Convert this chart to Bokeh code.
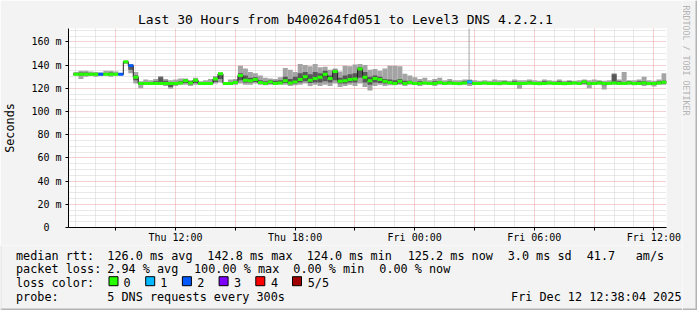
import math
from bokeh.plotting import figure
from bokeh.models import Range1d, FixedTicker, Grid, ColumnDataSource
from bokeh.layouts import column, row
from bokeh.embed import file_html
from bokeh.resources import INLINE
from bokeh.core.properties import value

NaN = float("nan")
FONT = "DejaVu Sans Mono"
BG = "#f3f3f3"

title_text = "Last 30 Hours from b400264fd051 to Level3 DNS 4.2.2.1"
side_text = "RRDTOOL / TOBI OETIKER"
y_axis_title = "Seconds"

start_hour = 6 + 38 / 60.0      # Thu 06:38 (hours since Thu 00:00)
step_hours = 0.25               # one column = 15 minutes
span_hours = 30
y_max = 171.5

# median rtt (ms) per 15-minute column
median = [
    NaN, 132, 132, 132, 132, 132, 132, 132, 132, 132,
    132, 142.8, 139.5, 129.5, 124, 124, 124, 124, 124, 124,
    124, 124, 124.5, 126.5, 124.5, 127, 124, 124, 124, 128,
    132.5, 124, 124, 125, 131, 127, 126.5, 127.5, 125, 124,
    125.5, 124, 124.5, 126.5, 124.5, 125.5, 127.5, 130, 127, 128.5,
    129.5, 132, 128.5, 134.5, 126, 126.5, 127.5, 128, 136.5, 129.5,
    126.5, 128.5, 127.5, 126, 125, 124, 126, 124, 125, 124,
    124, 124.5, 124, 124, 125, 124, 124.5, 124, 124, 124.5,
    125.5, 124, 124, 124.5, 124, 124, 124, 124.5, 124, 124,
    124, 124, 124.5, 124, 124, 124, 124.5, 124, 124, 124,
    124, 124.5, 124, 125.5, 124, 124, 124.5, 124, 124, 124.5,
    124, 124, 124.5, 124, 124, 124.5, 124, 124, 124.5, 125.2,
]
# fastest ping
p_min = [
    NaN, 131, 128, 130, 130.5, 130, 130.5, 131, 130, 131,
    131, 141, 133, 124, 120, 123, 123, 123, 123, 122,
    119.5, 122, 123, 123, 122, 123, 123, 123, 123, 124,
    125, 123, 123, 123, 124, 123, 123, 124, 123, 122.5,
    123, 123, 123, 123, 122, 122.5, 123, 124, 122, 123,
    122, 123, 122, 124, 121, 122, 123, 122, 124, 121,
    118, 122, 123, 122, 122.5, 122.5, 123, 122, 123, 123,
    122, 123, 123, 122, 123, 123, 123, 123, 122.5, 123,
    122, 123, 123, 123, 123, 123, 122.5, 123, 123, 123,
    119.5, 123, 123, 123, 122.5, 123, 123, 123, 123, 122.5,
    123, 123, 123, 123, 120, 123, 123, 119, 123, 123,
    123, 123, 123, 122.5, 123, 122, 122.5, 121.5, 123, 123,
]
# second ping
p_q1 = [
    NaN, 131.5, 131, 131.5, 131.5, 131.5, 131.5, 131.5, 131.5, 131.5,
    131.5, 142, 136, 127, 123, 123.5, 123.5, 123.5, 124, 123.5,
    121, 123.5, 124, 124.5, 123.5, 124.5, 123.5, 123.5, 123.5, 125.5,
    128, 123.5, 123.5, 124, 127, 125, 125, 125.5, 124, 123.5,
    124, 123.5, 124, 124.5, 123.5, 124, 125, 126, 124.5, 125,
    125, 126, 125, 127, 124, 124, 125, 125, 129, 125,
    123, 125, 124.5, 124, 124, 123.5, 124, 123.5, 124, 123.5,
    123.5, 124, 123.5, 123.5, 124, 123.5, 124, 123.5, 123.5, 124,
    124, 123.5, 123.5, 124, 123.5, 123.5, 123.5, 124, 123.5, 123.5,
    123, 123.5, 124, 123.5, 123.5, 123.5, 124, 123.5, 123.5, 123.5,
    123.5, 124, 123.5, 124, 123, 123.5, 124, 122.5, 123.5, 124,
    123.5, 123.5, 124, 123.5, 123.5, 123.5, 123.5, 123, 124, 124,
]
# fourth ping
p_q3 = [
    NaN, 133, 133.5, 133.5, 133, 132.5, 133, 133, 133.5, 133,
    132.5, 143, 140, 131, 125, 125.5, 125, 126, 129.5, 126.5,
    125, 125.5, 126, 127.5, 126, 128, 125, 125, 125.5, 129,
    133, 124.5, 125, 126.5, 133, 131, 129, 129.5, 127, 126,
    127, 126.5, 127, 130, 128, 130, 133, 134, 132, 134,
    133, 135, 131, 136, 129, 131, 132, 133, 138, 134,
    130, 131, 130, 128, 127.5, 127, 128, 126.5, 126.5, 125.5,
    126, 125.5, 125.5, 126, 126, 125.5, 126, 125.5, 125, 126,
    127, 125.5, 125, 125.5, 125, 125.5, 125.5, 126, 125, 126,
    125.5, 125.5, 126, 125.5, 125, 126, 125.5, 125.5, 126, 125,
    126, 125.5, 125, 126.5, 125.5, 125.5, 126, 125, 125.5, 132,
    126, 125.5, 126, 125.5, 126, 126, 125.5, 125, 126, 126.5,
]
# slowest ping
p_max = [
    NaN, 134, 135, 135, 134.5, 134, 133.5, 135, 135, 134.5,
    133, 143.5, 141, 134, 126, 127.5, 127, 128, 130.5, 128,
    127, 127.5, 128.5, 128.5, 127, 129, 126, 127, 128, 130.5,
    133.5, 125.5, 127.5, 128, 139.5, 137, 134, 133, 131, 129,
    128.5, 128, 129.5, 137.5, 136, 134, 141, 140, 139, 141,
    138, 138.5, 136, 137, 134.5, 139.5, 139, 140.5, 141, 140,
    136, 136.5, 135, 137, 139.5, 139.5, 139, 132.5, 131, 129.5,
    128, 129, 127, 128, 129, 127, 128, 127, 127, 127.5,
    127.5, 127, 126.5, 127, 126.5, 127.5, 127, 127, 126.5, 127.5,
    127, 127, 127.5, 127, 126.5, 127.5, 127, 126.5, 127.5, 126.5,
    127, 126.5, 127, 127.5, 127, 127.5, 127, 126.5, 127, 133,
    127.5, 134, 127, 127, 127.5, 130, 127, 126.5, 127.5, 133,
]
# lost pings out of 5
loss = [0] * 6 + [2] + [0] * 3 + [2, 0, 2] + [0] * 67 + [1] + [0] * 39

# single outlier ping
spike_hours = [26.73]
spike_from = [127.0]
spike_to = [250.0]

x_label_hours = [12, 18, 24, 30, 36]
x_labels = ["Thu 12:00", "Thu 18:00", "Fri 00:00", "Fri 06:00", "Fri 12:00"]
y_ticks = [0, 20, 40, 60, 80, 100, 120, 140, 160]
y_labels = ["0\u00a0\u00a0", "20 m", "40 m", "60 m", "80 m", "100 m", "120 m", "140 m", "160 m"]

loss_labels = ["0", "1", "2", "3", "4", "5/5"]
loss_colors = ["#26ff00", "#00b8ff", "#0059ff", "#7e00ff", "#ff0000", "#a10000"]

row1 = [("median rtt:", 16), ("126.0 ms avg", 107.3), ("142.8 ms max", 207.3),
        ("124.0 ms min", 306.7), ("125.2 ms now", 407.7), ("3.0 ms sd", 507.7),
        ("41.7", 586.7), ("am/s", 635.7)]
row2 = [("packet loss:", 16), ("2.94 % avg", 107.3), ("100.00 % max", 194.0),
        ("0.00 % min", 293.3), ("0.00 % now", 379.3)]
row3 = [("loss color:", 16)]
row4 = [("probe:", 16), ("5 DNS requests every 300s", 107.3)]
date_text = "Fri Dec 12 12:38:04 2025"

# ---------------------------------------------------------------- main chart
n = len(median)
t_left = [start_hour + i * step_hours for i in range(n)]
ok = [i for i in range(n) if not math.isnan(median[i])]
half_band = y_max / 200.0 * 1.5

src = ColumnDataSource(dict(
    left=[t_left[i] for i in ok],
    right=[t_left[i] + step_hours for i in ok],
    lo=[p_min[i] for i in ok], hi=[p_max[i] for i in ok],
    q1=[p_q1[i] for i in ok], q3=[p_q3[i] for i in ok],
    blo=[median[i] - half_band for i in ok], bhi=[median[i] + half_band for i in ok],
    color=[loss_colors[loss[i]] for i in ok],
))

step_x, step_y = [], []
for i in range(n):
    if math.isnan(median[i]):
        step_x.append(t_left[i]); step_y.append(NaN)
    else:
        step_x += [t_left[i], t_left[i] + step_hours]
        step_y += [median[i], median[i]]

W_MAIN = 682
p = figure(width=W_MAIN, height=245,
           x_range=Range1d(start_hour, start_hour + span_hours),
           y_range=Range1d(0, y_max),
           output_backend="svg", toolbar_location=None,
           min_border_left=66, min_border_right=W_MAIN - 666, min_border_top=28, min_border_bottom=17,
           background_fill_color="white", border_fill_color=BG, outline_line_color=None)
p.frame_align = False
p.xgrid.visible = False
p.ygrid.visible = False

first_h = int(math.ceil(start_hour))
last_h = int(start_hour + span_hours)
minor_x = [h for h in range(first_h, last_h + 1) if h % 3]
major_x = [h for h in range(first_h, last_h + 1) if h % 3 == 0]
minor_y = [v for v in range(5, int(y_max) + 1, 5) if v % 20]
major_y = [v for v in y_ticks if v > 0]

p.add_layout(Grid(dimension=0, ticker=FixedTicker(ticks=minor_x),
                  grid_line_color="#d2d2d2", grid_line_dash="1 1"), "center")
p.add_layout(Grid(dimension=1, ticker=FixedTicker(ticks=minor_y),
                  grid_line_color="#d2d2d2", grid_line_dash="1 1"), "center")
p.add_layout(Grid(dimension=0, ticker=FixedTicker(ticks=major_x),
                  grid_line_color="#e9a3a3", grid_line_dash="1 1"), "center")
p.add_layout(Grid(dimension=1, ticker=FixedTicker(ticks=major_y),
                  grid_line_color="#e9a3a3", grid_line_dash="1 1"), "center")

p.quad(left="left", right="right", bottom="lo", top="hi", source=src,
       fill_color="#a4a4a4", line_color=None)
p.quad(left="left", right="right", bottom="q1", top="q3", source=src,
       fill_color="#585858", line_color=None)
p.segment(x0=spike_hours, y0=spike_from, x1=spike_hours, y1=spike_to,
          line_color="#a4a4a4", line_width=1)
p.line(step_x, step_y, line_color="#202020", line_width=1)
p.quad(left="left", right="right", bottom="blo", top="bhi", source=src,
       fill_color="color", line_color=None)

xa = p.xaxis[0]
xa.ticker = FixedTicker(ticks=major_x)
ov = {h: "" for h in major_x}
ov.update({h: lab for h, lab in zip(x_label_hours, x_labels)})
xa.major_label_overrides = ov
xa.major_tick_out = 3
xa.major_tick_in = 0
xa.minor_tick_out = 0
xa.major_label_standoff = 1
xa.axis_line_color = "black"
xa.major_tick_line_color = "black"
xa.major_label_text_font = FONT
xa.major_label_text_font_size = "10px"
xa.major_label_text_color = "black"

ya = p.yaxis[0]
ya.ticker = FixedTicker(ticks=y_ticks, minor_ticks=minor_y)
ya.major_label_overrides = {v: lab for v, lab in zip(y_ticks, y_labels)}
ya.major_tick_out = 3
ya.major_tick_in = 0
ya.minor_tick_out = 0
ya.major_label_standoff = 4
ya.axis_line_color = "black"
ya.major_tick_line_color = "black"
ya.major_label_text_font = FONT
ya.major_label_text_font_size = "10px"
ya.major_label_text_color = "black"
ya.axis_label = y_axis_title
ya.axis_label_text_font = FONT
ya.axis_label_text_font_size = "11.8px"
ya.axis_label_text_font_style = "normal"
ya.axis_label_text_color = "black"
ya.axis_label_standoff = 11

p.title.text = title_text
p.title.align = "left"
p.title.offset = 69.5
p.title.standoff = 3
p.title.vertical_align = "bottom"
p.title.text_font = FONT
p.title.text_font_size = "13px"
p.title.text_font_style = "normal"
p.title.text_color = "black"

# ---------------------------------------------------------------- legend strip
q = figure(width=W_MAIN, height=65, x_range=Range1d(0, W_MAIN), y_range=Range1d(65, 0),
           x_axis_type=None, y_axis_type=None, toolbar_location=None,
           output_backend="svg", min_border=0,
           background_fill_color=BG, border_fill_color=BG, outline_line_color=None)
q.frame_align = False

baselines = [10.0, 23.7, 37.4, 51.1]
text_style = dict(text_font=value(FONT), text_font_size=value("11.8px"), text_color="black",
                  text_baseline=value("alphabetic"))
for items, yb in zip([row1, row2, row3, row4], baselines):
    q.text(x=[x - 0.5 for _, x in items], y=[yb] * len(items), text=[t for t, _ in items],
           text_align=value("left"), **text_style)

box_x = [113 + 36.7 * i for i in range(len(loss_labels))]
q.rect(x=box_x, y=[35.7] * len(box_x), width=9, height=9,
       fill_color=loss_colors, line_color="black", line_width=1)
q.text(x=[123 + 36.85 * i for i in range(len(loss_labels))], y=[baselines[2]] * len(loss_labels),
       text=loss_labels, text_align=value("left"), **text_style)
q.text(x=[681], y=[baselines[3]], text=[date_text], text_align=value("right"), **text_style)
q.quad(left=[0], right=[W_MAIN], bottom=[65], top=[63], fill_color="#b4b4b4", line_color=None)
q.quad(left=[0], right=[1], bottom=[65], top=[0], fill_color="#dedede", line_color=None)

# ---------------------------------------------------------------- right strip
W_SIDE = 697 - W_MAIN
c = figure(width=W_SIDE, height=310, x_range=Range1d(W_MAIN, 697), y_range=Range1d(310, 0),
           x_axis_type=None, y_axis_type=None, toolbar_location=None,
           output_backend="svg", min_border=0,
           background_fill_color=BG, border_fill_color=BG, outline_line_color=None)
c.frame_align = False
c.text(x=[685], y=[5], text=[side_text], angle=-math.pi / 2,
       text_font=value(FONT), text_font_size=value("8.3px"), text_color="#b4b4b4",
       text_baseline=value("alphabetic"), text_align=value("left"))
c.quad(left=[695], right=[697], bottom=[310], top=[0], fill_color="#b4b4b4", line_color=None)
c.quad(left=[W_MAIN], right=[697], bottom=[310], top=[308], fill_color="#b4b4b4", line_color=None)

layout = row(column(p, q), c)
open("out.html", "w").write(file_html(layout, INLINE))
